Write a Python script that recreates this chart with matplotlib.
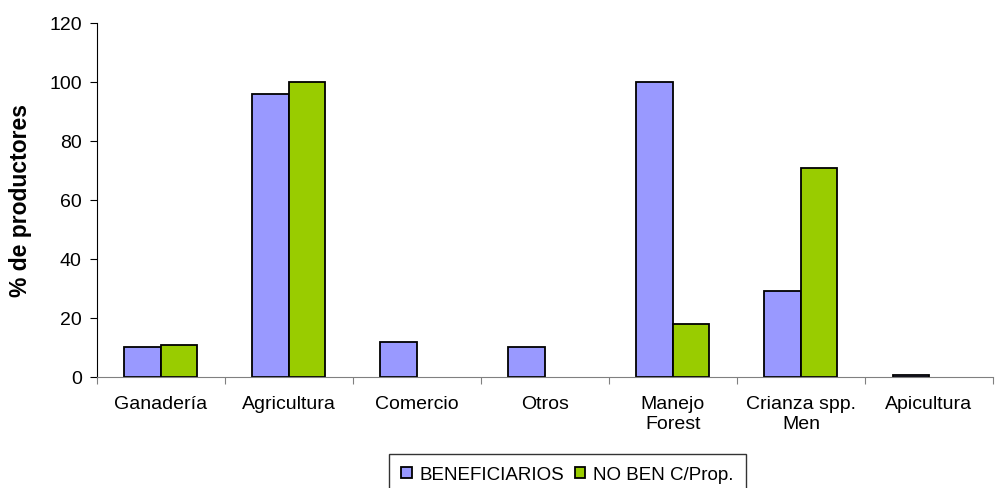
import numpy as np
import matplotlib.pyplot as plt

plt.rcParams['font.family'] = ['Liberation Sans', 'DejaVu Sans']

categorias = ['Ganadería', 'Agricultura', 'Comercio', 'Otros', 'Manejo\nForest',
              'Crianza spp.\nMen', 'Apicultura']
beneficiarios = [10, 96, 12, 10, 100, 29, 0.6]
no_ben = [11, 100, 0, 0, 18, 71, 0]

x = np.arange(len(categorias))
w = 0.285

fig = plt.figure(figsize=(9.99, 4.89), dpi=100)
ax = fig.add_axes([0.097, 0.227, 0.897, 0.724])

b1 = ax.bar(x - w / 2, beneficiarios, w, color='#9999ff', edgecolor='black', linewidth=1.3,
            label='BENEFICIARIOS')
b2 = ax.bar(x + w / 2, no_ben, w, color='#99cc00', edgecolor='black', linewidth=1.3,
            label='NO BEN C/Prop.')
# empty categories get no outline
for bars, vals in ((b1, beneficiarios), (b2, no_ben)):
    for r, v in zip(bars, vals):
        if v == 0:
            r.set_linewidth(0)

ax.set_xlim(-0.5, len(categorias) - 0.5)
ax.set_ylim(0, 120)
ax.set_yticks(range(0, 121, 20))
ax.tick_params(axis='y', labelsize=14, length=5, direction='out', pad=6)

# ticks on the category boundaries, labels centred on each group
ax.set_xticks(np.arange(-0.5, len(categorias), 1))
ax.set_xticklabels([])
ax.set_xticks(x, minor=True)
ax.set_xticklabels(categorias, minor=True, fontsize=14, linespacing=1.2)
ax.tick_params(axis='x', which='major', length=5, color='#808080')
ax.tick_params(axis='x', which='minor', length=0, pad=13)

for s in ['top', 'right']:
    ax.spines[s].set_visible(False)
ax.spines['bottom'].set_color('#808080')
ax.spines['left'].set_color('black')

ax.set_ylabel('% de productores', fontsize=16.5, fontweight='bold', labelpad=12)

leg = ax.legend(loc='upper center', bbox_to_anchor=(0.525, -0.218), ncol=2, frameon=True,
                fancybox=False, edgecolor='black', fontsize=13.5, handlelength=0.55,
                handleheight=0.55, handletextpad=0.4, columnspacing=0.6,
                borderpad=0.65, borderaxespad=0)
leg.get_frame().set_linewidth(1.0)

fig.savefig('out.png', dpi=100)
